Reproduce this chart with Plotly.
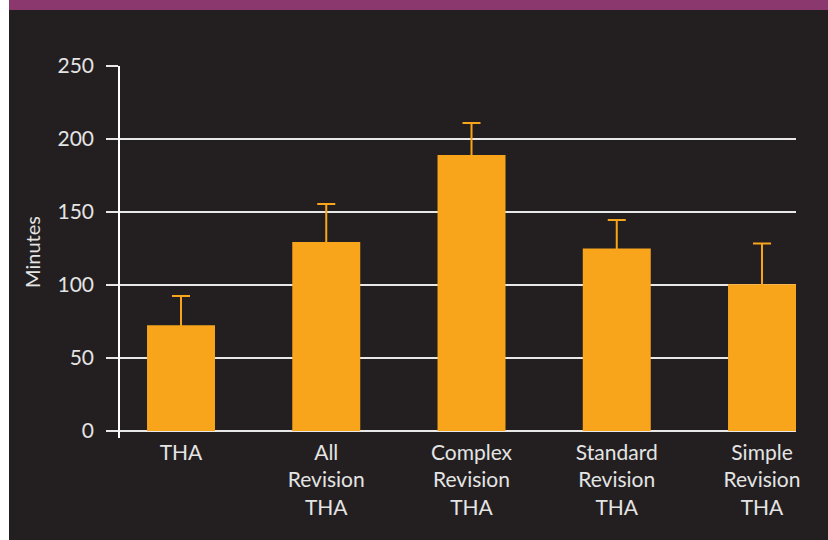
import plotly.graph_objects as go

categories = ["THA", "All<br>Revision<br>THA", "Complex<br>Revision<br>THA",
              "Standard<br>Revision<br>THA", "Simple<br>Revision<br>THA"]
minutes = [72.5, 129.5, 189, 125, 100.5]
sd = [20, 26, 22, 19.5, 28]
y_ticks = [0, 50, 100, 150, 200, 250]

BG = "#231f20"
ORANGE = "#f8a51c"
TXT = "#e4e4e4"

fig = go.Figure(go.Bar(
    x=categories, y=minutes, width=0.468,
    marker=dict(color=ORANGE, line=dict(width=0)),
    error_y=dict(type="data", array=sd, symmetric=True,
                 color=ORANGE, thickness=2, width=9),
))

W, H = 828, 540
L, R, T, B = 120, 32, 66, 102
pw, ph = W - L - R, H - T - B

def px_x(x):
    return (x - L) / pw

def px_y(y):
    return (H - B - y) / ph

fig.update_layout(
    width=W, height=H,
    margin=dict(l=L, r=R, t=T, b=B),
    paper_bgcolor=BG, plot_bgcolor=BG,
    font=dict(family="Lato", color=TXT, size=21),
    showlegend=False,
    xaxis=dict(type="category", range=[-0.42, 4.234], showgrid=False, showline=False,
               zeroline=False, ticks="", tickfont=dict(size=21, color=TXT)),
    yaxis=dict(range=[-4.8, 250], tickvals=y_ticks, showgrid=True, gridcolor="#e8e8e8",
               gridwidth=1.5, zeroline=False, showline=True, linecolor="#ffffff",
               linewidth=1.5, ticks="outside", ticklen=12, tickcolor="#e8e8e8",
               tickwidth=1.5, ticklabelstandoff=8,
               tickfont=dict(size=21, color=TXT),
               title=dict(text="Minutes", font=dict(size=20, color=TXT), standoff=12)),
    shapes=[
        dict(type="rect", xref="paper", yref="paper", x0=px_x(-2), x1=px_x(9),
             y0=px_y(H + 2), y1=px_y(-2), fillcolor="#ffffff", line=dict(width=0), layer="above"),
        dict(type="rect", xref="paper", yref="paper", x0=px_x(9), x1=px_x(W + 2),
             y0=px_y(10), y1=px_y(-2), fillcolor="#8a386e", line=dict(width=0), layer="above"),
        dict(type="line", xref="paper", yref="y", x0=px_x(108), x1=1, y0=0, y1=0,
             line=dict(color="#bdbdbd", width=2), layer="below"),
    ],
)

fig.write_html("out.html", config={"displayModeBar": False},
               post_script="document.body.style.margin='0';")
